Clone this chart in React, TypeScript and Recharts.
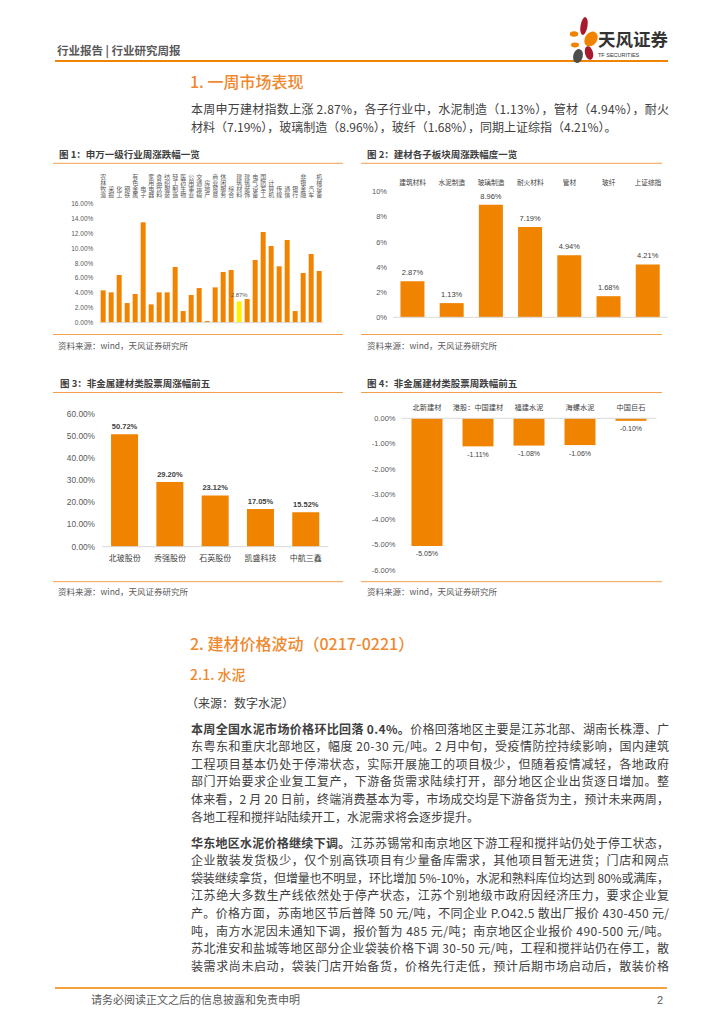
import React from "react";
import { BarChart, Bar, XAxis, YAxis, Cell, LabelList, ReferenceLine } from "recharts";

const CN = '"Noto Sans CJK SC", "Noto Sans", sans-serif';
const NUM = '"Liberation Sans", Arial, sans-serif';
const ORANGE = "#F08300";
const YELLOW = "#FFF000";
const HEAD = "#F0882E";
const RULE = "#F4A04F";
const GREY = "#595959";
const TEXT = "#404040";
const AXIS = "#D9D9D9";

// 图1：申万一级行业周涨跌幅（%）
const industries = ["农林牧渔", "采掘", "化工", "钢铁", "有色金属", "电子", "家用电器", "食品饮料", "纺织服装", "轻工制造", "医药生物", "公用事业", "交通运输", "房地产", "商业贸易", "休闲服务", "综合", "建筑材料", "建筑装饰", "电气设备", "国防军工", "计算机", "传媒", "通信", "银行", "非银金融", "汽车", "机械设备"];
const industryChange = [4.36, 4.09, 6.43, 2.65, 3.87, 13.53, 2.47, 4.09, 4.09, 7.51, 1.57, 3.73, 4.67, 0.22, 4.76, 6.83, 7.1, 2.87, 3.19, 8.45, 12.22, 10.34, 7.6, 11.15, 1.57, 6.7, 9.26, 6.97];
const highlight = "建筑材料";
const industryTicks = [0, 2, 4, 6, 8, 10, 12, 14, 16];

// 图2：建材各子板块周涨跌幅度
const subSectors = ["建筑材料", "水泥制造", "玻璃制造", "耐火材料", "管材", "玻纤", "上证综指"];
const subChange = [2.87, 1.13, 8.96, 7.19, 4.94, 1.68, 4.21];
const subTicks = [0, 1, 2, 3, 4, 5, 6, 7, 8, 9, 10];

// 图3：周涨幅前五
const gainers = ["北玻股份", "秀强股份", "石英股份", "凯盛科技", "中航三鑫"];
const gainerChange = [50.72, 29.2, 23.12, 17.05, 15.52];
const gainerTicks = [0, 10, 20, 30, 40, 50, 60];

// 图4：周跌幅前五
const losers = ["北新建材", "港股：中国建材", "福建水泥", "海螺水泥", "中国巨石"];
const loserChange = [-5.05, -1.11, -1.08, -1.06, -0.1];
const loserTicks = [0, -1, -2, -3, -4, -5, -6];

// 正文
const introLines = [
  "本周申万建材指数上涨 2.87%，各子行业中，水泥制造（1.13%），管材（4.94%），耐火",
  "材料（7.19%），玻璃制造（8.96%），玻纤（1.68%），同期上证综指（4.21%）。",
];
const cementLead = "本周全国水泥市场价格环比回落 0.4%。";
const cementLines = [
  "价格回落地区主要是江苏北部、湖南长株潭、广",
  "东粤东和重庆北部地区，幅度 20-30 元/吨。2 月中旬，受疫情防控持续影响，国内建筑",
  "工程项目基本仍处于停滞状态，实际开展施工的项目极少，但随着疫情减轻，各地政府",
  "部门开始要求企业复工复产，下游备货需求陆续打开，部分地区企业出货逐日增加。整",
  "体来看，2 月 20 日前，终端消费基本为零，市场成交均是下游备货为主，预计未来两周，",
  "各地工程和搅拌站陆续开工，水泥需求将会逐步提升。",
];
const eastLead = "华东地区水泥价格继续下调。";
const eastLines = [
  "江苏苏锡常和南京地区下游工程和搅拌站仍处于停工状态，",
  "企业散装发货极少，仅个别高铁项目有少量备库需求，其他项目暂无进货；门店和网点",
  "袋装继续拿货，但增量也不明显，环比增加 5%-10%，水泥和熟料库位均达到 80%或满库，",
  "江苏绝大多数生产线依然处于停产状态，江苏个别地级市政府因经济压力，要求企业复",
  "产。价格方面，苏南地区节后普降 50 元/吨，不同企业 P.O42.5 散出厂报价 430-450 元/",
  "吨，南方水泥因未通知下调，报价暂为 485 元/吨；南京地区企业报价 490-500 元/吨。",
  "苏北淮安和盐城等地区部分企业袋装价格下调 30-50 元/吨，工程和搅拌站仍在停工，散",
  "装需求尚未启动，袋装门店开始备货，价格先行走低，预计后期市场启动后，散装价格",
];

const pct2 = (v: number) => `${v.toFixed(2)}%`;
const pct0 = (v: number) => `${v}%`;

// 竖排行业名，底部对齐
function VerticalTick({ x, payload }: any) {
  return (
    <text x={x} y={30} textAnchor="end" fontSize={6} fill={GREY} fontFamily={CN} style={{ writingMode: "vertical-rl" }}>
      {payload.value}
    </text>
  );
}

function Chart1() {
  const data = industries.map((name, i) => ({
    name,
    value: industryChange[i],
    label: name === highlight ? industryChange[i] : null,
  }));
  return (
    <div style={{ position: "absolute", left: 40, top: 168 }}>
      <BarChart width={290} height={165} data={data} margin={{ top: 0, right: 6.7, bottom: 10.3, left: 0 }} barCategoryGap="17%">
        <XAxis dataKey="name" orientation="top" height={36} axisLine={false} tickLine={false} interval={0} tick={(p: any) => <VerticalTick {...p} />} />
        <YAxis width={59.3} domain={[0, 16]} ticks={industryTicks} tickFormatter={pct2} axisLine={false} tickLine={false} tickSize={0} tickMargin={6} tick={{ fontSize: 6.5, fill: GREY, fontFamily: NUM }} />
        <ReferenceLine y={0} stroke={AXIS} />
        <Bar dataKey="value" isAnimationActive={false}>
          {data.map((d) => (
            <Cell key={d.name} fill={d.name === highlight ? YELLOW : ORANGE} />
          ))}
          <LabelList
            dataKey="label"
            content={(p: any) =>
              p.value == null ? null : (
                <text x={p.x + p.width / 2} y={p.y - 4} textAnchor="middle" fontSize={6} fill={GREY} fontFamily={NUM}>
                  {pct2(p.value)}
                </text>
              )
            }
          />
        </Bar>
      </BarChart>
    </div>
  );
}

function Chart2() {
  const data = subSectors.map((name, i) => ({ name, value: subChange[i] }));
  return (
    <div style={{ position: "absolute", left: 360, top: 170 }}>
      <BarChart width={310} height={160} data={data} margin={{ top: 0, right: 2.5, bottom: 12.7, left: 0 }} barCategoryGap="19%">
        <XAxis dataKey="name" orientation="top" height={21.7} axisLine={false} tickLine={false} tickSize={0} tickMargin={7} interval={0} tick={{ fontSize: 6.7, fill: TEXT, fontFamily: CN }} />
        <YAxis width={33} domain={[0, 10]} ticks={subTicks} tickFormatter={pct0} axisLine={false} tickLine={false} tickSize={0} tickMargin={6} tick={{ fontSize: 7.5, fill: GREY, fontFamily: NUM }} />
        <ReferenceLine y={0} stroke={AXIS} />
        <Bar dataKey="value" fill={ORANGE} isAnimationActive={false}>
          <LabelList dataKey="value" position="top" offset={6} formatter={(v: any) => pct2(Number(v))} style={{ fontSize: 7.5, fill: TEXT, fontFamily: NUM }} />
        </Bar>
      </BarChart>
    </div>
  );
}

function Chart3() {
  const data = gainers.map((name, i) => ({ name, value: gainerChange[i] }));
  return (
    <div style={{ position: "absolute", left: 40, top: 400 }}>
      <BarChart width={300} height={175} data={data} margin={{ top: 13.7, right: 11.5, bottom: 0, left: 0 }} barCategoryGap="20%">
        <XAxis dataKey="name" height={28.3} axisLine={{ stroke: AXIS }} tickLine={false} tickSize={0} tickMargin={9} interval={0} tick={{ fontSize: 8, fill: TEXT, fontFamily: CN }} />
        <YAxis width={62} domain={[0, 60]} ticks={gainerTicks} tickFormatter={pct2} axisLine={false} tickLine={false} tickSize={0} tickMargin={7} tick={{ fontSize: 8.3, fill: GREY, fontFamily: NUM }} />
        <Bar dataKey="value" fill={ORANGE} isAnimationActive={false}>
          <LabelList dataKey="value" position="top" offset={5} formatter={(v: any) => pct2(Number(v))} style={{ fontSize: 7.5, fill: TEXT, fontFamily: NUM, fontWeight: 700 }} />
        </Bar>
      </BarChart>
    </div>
  );
}

function Chart4() {
  const data = losers.map((name, i) => ({ name, value: loserChange[i] }));
  return (
    <div style={{ position: "absolute", left: 360, top: 395 }}>
      <BarChart width={305} height={185} data={data} margin={{ top: 0, right: 8.5, bottom: 10, left: 0 }} barCategoryGap="19.6%">
        <XAxis dataKey="name" orientation="top" height={23.3} axisLine={{ stroke: AXIS }} tickLine={false} tickSize={0} tickMargin={8} interval={0} tick={{ fontSize: 7.2, fill: TEXT, fontFamily: CN }} />
        <YAxis width={41.5} domain={[-6, 0]} ticks={loserTicks} tickFormatter={pct2} axisLine={false} tickLine={false} tickSize={0} tickMargin={6} tick={{ fontSize: 7.5, fill: GREY, fontFamily: NUM }} />
        <Bar dataKey="value" fill={ORANGE} isAnimationActive={false}>
          <LabelList
            dataKey="value"
            content={(p: any) => (
              <text x={p.x + p.width / 2} y={Math.max(p.y, p.y + p.height) + 10.5} textAnchor="middle" fontSize={7} fill={TEXT} fontFamily={NUM}>
                {pct2(Number(p.value))}
              </text>
            )}
          />
        </Bar>
      </BarChart>
    </div>
  );
}

function Logo() {
  return (
    <g>
      <ellipse cx={584} cy={26} rx={3.5} ry={9} fill="#A6192E" transform="rotate(10 584 26)" />
      <ellipse cx={574} cy={34} rx={4.2} ry={2.8} fill={ORANGE} />
      <ellipse cx={591} cy={39} rx={6} ry={8} fill={ORANGE} transform="rotate(35 591 39)" />
      <ellipse cx={575} cy={45} rx={4} ry={2.4} fill={ORANGE} />
      <ellipse cx={589} cy={53} rx={4} ry={7} fill="#A6192E" transform="rotate(-15 589 53)" />
      <ellipse cx={578} cy={56} rx={4.8} ry={7} fill="#4D4D4D" transform="rotate(15 578 56)" />
      <text x={598} y={46} fontSize={17.5} fontWeight={700} fill="#333" fontFamily={CN}>天风证券</text>
      <text x={598} y={57} fontSize={5.5} fill="#333" fontFamily={NUM}>TF SECURITIES</text>
    </g>
  );
}

function BodyLine({ y, lead, text, justify }: { y: number; lead?: string; text: string; justify: boolean }) {
  const extra = justify ? { textLength: 478, lengthAdjust: "spacing" } : {};
  return (
    <text x={191} y={y} fontSize={12} fill={TEXT} fontFamily={CN} {...extra}>
      {lead ? <tspan fontWeight={700}>{lead}</tspan> : null}
      <tspan>{text}</tspan>
    </text>
  );
}

function PageText() {
  return (
    <svg width={724} height={1024} style={{ position: "absolute", left: 0, top: 0 }}>
      <text x={57} y={55} fontSize={11.5} fontWeight={700} fill={GREY} fontFamily={CN}>行业报告 | 行业研究周报</text>
      <line x1={55} y1={61} x2={668} y2={61} stroke={ORANGE} strokeWidth={2} />
      <Logo />

      <text x={190} y={88} fontSize={16} fontWeight={500} fill={HEAD} fontFamily={CN}>1. 一周市场表现</text>
      <BodyLine y={113.5} text={introLines[0]} justify />
      <BodyLine y={132} text={introLines[1]} justify={false} />

      <text x={59} y={157.5} fontSize={9.5} fontWeight={700} fill={TEXT} fontFamily={CN}>图 1：申万一级行业周涨跌幅一览</text>
      <line x1={53} y1={163.3} x2={343} y2={163.3} stroke={RULE} strokeWidth={1} />
      <line x1={53} y1={334.5} x2={343} y2={334.5} stroke={RULE} strokeWidth={1} />
      <text x={58} y={349} fontSize={8.5} fill={GREY} fontFamily={CN}>资料来源：wind，天风证券研究所</text>

      <text x={367} y={157.5} fontSize={9.5} fontWeight={700} fill={TEXT} fontFamily={CN}>图 2：建材各子板块周涨跌幅度一览</text>
      <line x1={361} y1={163.3} x2={662} y2={163.3} stroke={RULE} strokeWidth={1} />
      <line x1={361} y1={334.5} x2={662} y2={334.5} stroke={RULE} strokeWidth={1} />
      <text x={367} y={349} fontSize={8.5} fill={GREY} fontFamily={CN}>资料来源：wind，天风证券研究所</text>

      <text x={60} y={386.5} fontSize={9.5} fontWeight={700} fill={TEXT} fontFamily={CN}>图 3：非金属建材类股票周涨幅前五</text>
      <line x1={53} y1={392.5} x2={343} y2={392.5} stroke={RULE} strokeWidth={1} />
      <line x1={53} y1={581.7} x2={343} y2={581.7} stroke={RULE} strokeWidth={1} />
      <text x={58} y={595} fontSize={8.5} fill={GREY} fontFamily={CN}>资料来源：wind，天风证券研究所</text>

      <text x={367} y={386.5} fontSize={9.5} fontWeight={700} fill={TEXT} fontFamily={CN}>图 4：非金属建材类股票周跌幅前五</text>
      <line x1={361} y1={392.5} x2={662} y2={392.5} stroke={RULE} strokeWidth={1} />
      <line x1={361} y1={581.7} x2={662} y2={581.7} stroke={RULE} strokeWidth={1} />
      <text x={367} y={595} fontSize={8.5} fill={GREY} fontFamily={CN}>资料来源：wind，天风证券研究所</text>

      <text x={190} y={650} fontSize={16} fontWeight={500} fill={HEAD} fontFamily={CN}>2. 建材价格波动（0217-0221）</text>
      <text x={190} y={680} fontSize={14} fontWeight={500} fill={HEAD} fontFamily={CN}>2.1. 水泥</text>
      <text x={186} y={707.6} fontSize={12} fill={TEXT} fontFamily={CN}>（来源：数字水泥）</text>

      {cementLines.map((t, i) => (
        <BodyLine key={"c" + i} y={733.6 + i * 17.6} lead={i === 0 ? cementLead : undefined} text={t} justify={i < cementLines.length - 1} />
      ))}
      {eastLines.map((t, i) => (
        <BodyLine key={"e" + i} y={847.6 + i * 17.6} lead={i === 0 ? eastLead : undefined} text={t} justify />
      ))}

      <line x1={55} y1={988} x2={667} y2={988} stroke={ORANGE} strokeWidth={1.5} />
      <text x={91} y={1004} fontSize={11} fill={GREY} fontFamily={CN}>请务必阅读正文之后的信息披露和免责申明</text>
      <text x={663} y={1004} fontSize={11} fill={GREY} fontFamily={NUM} textAnchor="end">2</text>
    </svg>
  );
}

export default function App() {
  return (
    <div style={{ position: "absolute", left: 0, top: 0, width: 724, height: 1024, background: "#fff", overflow: "hidden", fontFamily: CN }}>
      <PageText />
      <Chart1 />
      <Chart2 />
      <Chart3 />
      <Chart4 />
    </div>
  );
}
